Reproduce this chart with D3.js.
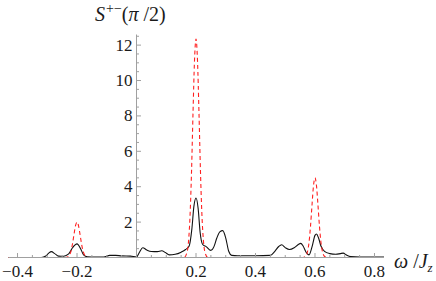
<!DOCTYPE html>
<html>
<head>
<meta charset="utf-8">
<script src="https://cdn.jsdelivr.net/npm/d3@7"></script>
<style>
  body { margin: 0; background: #fff; }
</style>
</head>
<body>
<svg></svg>
<script>
// S+-(pi/2) spectrum: full calculation (black) vs. dashed red reference peaks
const width = 436, height = 281;

// pick the first Times-like font that is actually installed
function pickFont(candidates) {
  const ctx = document.createElement("canvas").getContext("2d");
  const sample = "0.2 12 S\u03c0 \u03c9/J mmmWWiil";
  for (const base of ["monospace", "sans-serif"]) {
    ctx.font = `20px ${base}`;
    const ref = ctx.measureText(sample).width;
    for (const f of candidates) {
      ctx.font = `20px "${f}", ${base}`;
      if (Math.abs(ctx.measureText(sample).width - ref) > 0.5) return `"${f}", serif`;
    }
  }
  return "serif";
}
const serif = pickFont(["Tinos", "Times New Roman", "FreeSerif", "Liberation Serif", "Nimbus Roman", "DejaVu Serif", "Noto Serif"]);

// tick values
const xMajorTicks = [-0.4, -0.2, 0.2, 0.4, 0.6, 0.8];
const xTickLabels = ["\u22120.4", "\u22120.2", "0.2", "0.4", "0.6", "0.8"];
const yMajorTicks = [2, 4, 6, 8, 10, 12];

// black solid curve, [omega, S]
const blackOmega = [-0.43, -0.32, -0.305, -0.295, -0.286, -0.275, -0.262, -0.245, -0.228, -0.215, -0.2, -0.188, -0.178, -0.165, -0.14, -0.11, -0.09, -0.07, -0.05, -0.02, 0, 0.01, 0.021, 0.035, 0.05, 0.07, 0.085, 0.097, 0.11, 0.13, 0.15, 0.165, 0.177, 0.186, 0.193, 0.2, 0.207, 0.214, 0.222, 0.235, 0.25, 0.26, 0.27, 0.28, 0.29, 0.3, 0.31, 0.32, 0.34, 0.4, 0.45, 0.465, 0.478, 0.488, 0.5, 0.514, 0.53, 0.545, 0.552, 0.56, 0.57, 0.58, 0.59, 0.6, 0.605, 0.612, 0.62, 0.632, 0.65, 0.67, 0.685, 0.695, 0.705, 0.72, 0.75, 0.832];
const blackS =     [0, 0, 0.08, 0.25, 0.33, 0.22, 0.08, 0.07, 0.2, 0.55, 0.77, 0.5, 0.15, 0.04, 0.02, 0.03, 0.12, 0.12, 0.09, 0.08, 0.03, 0.3, 0.55, 0.42, 0.34, 0.33, 0.38, 0.28, 0.15, 0.18, 0.3, 0.45, 0.65, 1.6, 2.9, 3.36, 2.8, 1.4, 0.75, 0.6, 0.4, 0.6, 1.1, 1.45, 1.52, 1.1, 0.35, 0.12, 0.1, 0.1, 0.12, 0.35, 0.62, 0.72, 0.56, 0.45, 0.55, 0.75, 0.8, 0.65, 0.3, 0.15, 0.6, 1.25, 1.33, 1.1, 0.65, 0.35, 0.22, 0.18, 0.22, 0.25, 0.15, 0.05, 0.03, 0.03];

// red dashed curve, [omega, S]
const redOmega = [-0.43, -0.24, -0.23, -0.225, -0.22, -0.215, -0.21, -0.205, -0.2, -0.195, -0.19, -0.185, -0.18, -0.175, -0.17, -0.16,
  0.16, 0.17, 0.175, 0.18, 0.185, 0.19, 0.195, 0.2, 0.205, 0.21, 0.215, 0.22, 0.225, 0.23, 0.24,
  0.56, 0.57, 0.575, 0.58, 0.585, 0.59, 0.595, 0.6, 0.605, 0.61, 0.615, 0.62, 0.625, 0.63, 0.64, 0.832];
const redS = [0, 0, 0.05, 0.15, 0.38, 0.79, 1.32, 1.8, 2.0, 1.8, 1.32, 0.79, 0.38, 0.15, 0.05, 0,
  0, 0.3, 0.94, 2.37, 4.87, 8.2, 11.14, 12.35, 11.14, 8.2, 4.87, 2.37, 0.94, 0.3, 0,
  0, 0.11, 0.34, 0.86, 1.78, 2.97, 4.06, 4.5, 4.06, 2.97, 1.78, 0.86, 0.34, 0.11, 0, 0];

const blackData = blackOmega.map((w, i) => [w, blackS[i]]);
const redData = redOmega.map((w, i) => [w, redS[i]]);

const svg = d3.select("svg").attr("width", width).attr("height", height);

const x = d3.scaleLinear().domain([-0.43, 0.832]).range([8.6, 384]);
const y = d3.scaleLinear().domain([0, 12.6]).range([257.5, 34.5]);

const axisColor = "#a0a0a0";
const textColor = "#1a1a1a";

// curves first, axes drawn on top like Mathematica
const line = d3.line()
  .x(d => x(d[0]))
  .y(d => y(d[1]))
  .curve(d3.curveMonotoneX);

svg.append("path")
  .datum(blackData)
  .attr("d", line)
  .attr("fill", "none")
  .attr("stroke", "#111")
  .attr("stroke-width", 1.1);

svg.append("path")
  .datum(redData)
  .attr("d", line)
  .attr("fill", "none")
  .attr("stroke", "#ff2020")
  .attr("stroke-width", 1.1)
  .attr("stroke-dasharray", "4,3");

// x axis: line with inward (upward) ticks
const xAxis = svg.append("g");
xAxis.append("line")
  .attr("x1", x.range()[0]).attr("x2", x.range()[1])
  .attr("y1", y(0)).attr("y2", y(0))
  .attr("stroke", axisColor);

const xMinor = d3.range(-8, 17).map(i => i * 0.05);
xAxis.selectAll(".xminor")
  .data(xMinor)
  .enter().append("line")
  .attr("x1", d => x(d)).attr("x2", d => x(d))
  .attr("y1", y(0))
  .attr("y2", d => y(0) - (Math.abs(Math.round(d * 10) - d * 10) < 1e-6 && Math.round(d * 10) % 2 === 0 ? 4.5 : 2.5))
  .attr("stroke", axisColor);

xAxis.selectAll(".xlabel")
  .data(xMajorTicks)
  .enter().append("text")
  .attr("x", d => x(d))
  .attr("y", 277)
  .attr("text-anchor", "middle")
  .style("font-family", serif)
  .attr("font-size", "17px")
  .attr("fill", textColor)
  .text((d, i) => xTickLabels[i]);

// y axis
const yAxis = svg.append("g");
yAxis.append("line")
  .attr("x1", x(0)).attr("x2", x(0))
  .attr("y1", y.range()[0]).attr("y2", y.range()[1])
  .attr("stroke", axisColor);

const yMinor = d3.range(1, 26).map(i => i * 0.5);
yAxis.selectAll(".yminor")
  .data(yMinor)
  .enter().append("line")
  .attr("x1", x(0))
  .attr("x2", d => x(0) + (d % 2 === 0 ? 4.5 : 2.5))
  .attr("y1", d => y(d)).attr("y2", d => y(d))
  .attr("stroke", axisColor);

yAxis.selectAll(".ylabel")
  .data(yMajorTicks)
  .enter().append("text")
  .attr("x", x(0) - 4)
  .attr("y", d => y(d) + 5.5)
  .attr("text-anchor", "end")
  .style("font-family", serif)
  .attr("font-size", "17px")
  .attr("fill", textColor)
  .text(d => d);

// axis labels
const title = svg.append("text")
  .attr("x", 95)
  .attr("y", 21)
  .style("font-family", serif)
  .attr("font-size", "20px")
  .attr("fill", textColor);
title.append("tspan").attr("font-style", "italic").text("S");
title.append("tspan").attr("font-size", "14px").attr("dx", 1).attr("dy", -8).text("+\u2212");
title.append("tspan").attr("dy", 8).text("(");
title.append("tspan").attr("font-style", "italic").text("\u03c0");
title.append("tspan").text(" /2)");

const xLabel = svg.append("text")
  .attr("x", 394)
  .attr("y", 268)
  .style("font-family", serif)
  .attr("font-size", "20px")
  .attr("fill", textColor);
xLabel.append("tspan").attr("font-style", "italic").text("\u03c9");
xLabel.append("tspan").text(" /");
xLabel.append("tspan").attr("font-style", "italic").text("J");
xLabel.append("tspan").attr("font-style", "italic").attr("font-size", "13px").attr("dy", 4).text("z");
</script>
</body>
</html>
